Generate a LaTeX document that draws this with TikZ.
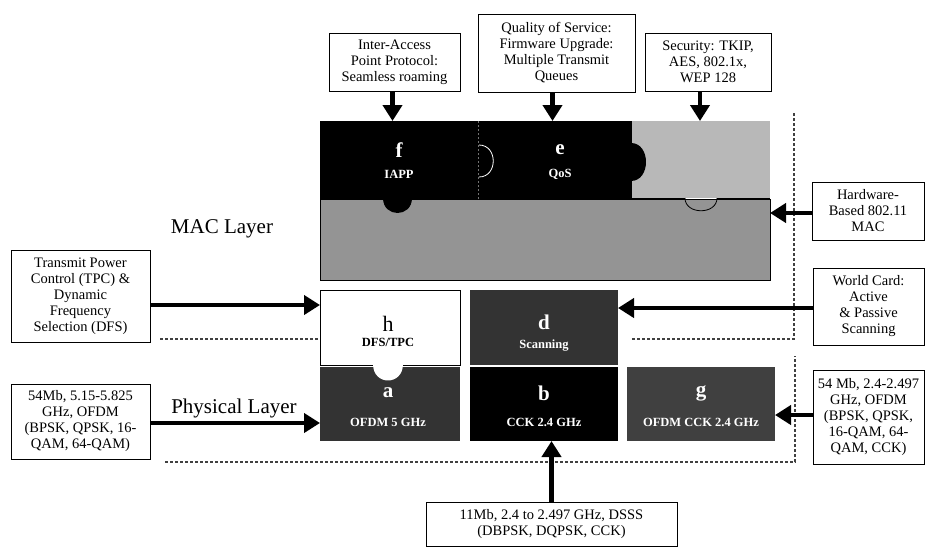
\documentclass[tikz,border=0pt]{standalone}
\usepackage{fontspec}
\setmainfont{Liberation Serif}
\usetikzlibrary{arrows.meta}
\begin{document}
\begin{tikzpicture}[x=1pt,y=-1pt,
  box/.style={draw, line width=1pt, fill=white, align=center, inner sep=1pt,
              font=\fontsize{14.5}{16}\selectfont},
  boxtext/.style={align=center, inner sep=0pt, font=\fontsize{14.5}{16}\selectfont},
  blk/.style={inner sep=0pt, outer sep=0pt, anchor=north west},
  arr/.style={line width=4.5pt, -{Triangle[length=16pt,width=19pt]}},
  big/.style={inner sep=0pt, font=\fontsize{21}{21}\selectfont\bfseries},
  bigreg/.style={inner sep=0pt, font=\fontsize{22}{22}\selectfont},
  sub/.style={inner sep=0pt, font=\fontsize{12.5}{13}\selectfont\bfseries},
  layer/.style={inner sep=0pt, anchor=base, font=\fontsize{21}{21}\selectfont},
  bound/.style={line width=1.1pt, black!75, dash pattern=on 3pt off 2pt}]
\useasboundingbox (0,0) rectangle (925,547);

% ---------- boundaries ----------
\draw[bound] (160,339) -- (318,339);
\draw[bound] (632,339) -- (794,339) -- (794,113);
\draw[bound] (165,462) -- (795,462) -- (795,356);

% ---------- MAC block ----------
\node[blk, draw=black, line width=0.8pt, fill=black!42, minimum width=450pt, minimum height=81pt] (ml) at (320,199) {};
\node[blk, fill=black!28, minimum width=138pt, minimum height=77pt] (mr) at (632,121) {};
\node[blk, fill=black, minimum width=158pt, minimum height=78pt] (f) at (320,121) {};
\node[blk, fill=black, minimum width=154pt, minimum height=78pt] (e) at (478,121) {};
\fill[black] (383,198) .. controls (383,218) and (412,218) .. (412,198) -- cycle;
\fill[black] (631,143) .. controls (651,143) and (651,181) .. (631,181) -- cycle;
\draw[black!55, line width=0.5pt, dash pattern=on 2pt off 2pt] (478,121) -- (478,199);
\draw[white, line width=0.8pt] (479,145) .. controls (498,145) and (498,177) .. (479,177);
\draw[black, line width=0.8pt] (685,198) .. controls (685,215) and (717,215) .. (717,198);
\draw[black, line width=0.6pt] (632,198) -- (685,198) (717,198) -- (770,198);

\node[big, white] (fl) at (399,150) {f};
\node[sub, white] (ft) at (399,174) {IAPP};
\node[big, white] (el) at (560,150) {e};
\node[sub, white] (et) at (560,174) {QoS};

\node[layer] (maclab) at (222,233) {MAC Layer};
\node[layer] (phylab) at (234,413) {Physical Layer};

% ---------- lower blocks ----------
\node[blk, draw=black, line width=0.8pt, fill=white, minimum width=140pt, minimum height=75pt] (h) at (320,290) {};
\node[blk, fill=black!80, minimum width=148pt, minimum height=75pt] (d) at (470,290) {};
\node[blk, fill=black!80, minimum width=140pt, minimum height=74pt] (a) at (320,367) {};
\node[blk, fill=black, minimum width=148pt, minimum height=74pt] (b) at (470,367) {};
\node[blk, fill=black!75, minimum width=148pt, minimum height=74pt] (g) at (627,367) {};
\fill[white] (373,364) .. controls (373,386) and (403,386) .. (403,364) -- cycle;

\node[bigreg] (hl) at (388,324) {h};
\node[sub] (ht) at (388,342) {DFS/TPC};
\node[big, white] (dl) at (544,322) {d};
\node[sub, white] (dt) at (544,346) {Scanning};
\node[big, white] (al) at (388,393) {a};
\node[sub, white] (at) at (388,422) {OFDM 5 GHz};
\node[big, white] (bl) at (544,393) {b};
\node[sub, white] (bt) at (544,422) {CCK 2.4 GHz};
\node[big, white] (gl) at (701,393) {g};
\node[sub, white] (gt) at (701,422) {OFDM CCK 2.4 GHz};

% ---------- description boxes ----------
\node[box, minimum width=131pt, minimum height=58pt] (inter) at (394.5,62)
  {Inter-Access\\Point Protocol:\\Seamless roaming};
\node[box, minimum width=157pt, minimum height=78pt] (qos) at (556.5,53)
  {Quality of Service:\\Firmware Upgrade:\\Multiple Transmit\\Queues};
\node[box, minimum width=126pt, minimum height=58pt] (sec) at (708,62)
  {Security: TKIP,\\AES, 802.1x,\\WEP 128};
\node[box, minimum width=112pt, minimum height=58pt] (hw) at (868,211)
  {Hardware-\\Based 802.11\\MAC};
\node[box, minimum width=111pt, minimum height=77pt] (wc) at (868.5,306.5)
  {World Card:\\Active\\\& Passive\\Scanning};
\node[box, minimum width=139pt, minimum height=92pt] (tpc) at (80.5,296)
  {Transmit Power\\Control (TPC) \&\\Dynamic\\Frequency\\Selection (DFS)};
\node[box, minimum width=139pt, minimum height=75pt] (lm) at (80.5,421.5)
  {54Mb, 5.15-5.825\\GHz, OFDM\\(BPSK, QPSK, 16-\\QAM, 64-QAM)};
\node[box, minimum width=111pt, minimum height=94pt] (rm) at (868.5,417) {};
\node[boxtext] (rmt) at (rm.center)
  {54 Mb, 2.4-2.497\\GHz, OFDM\\(BPSK, QPSK,\\16-QAM, 64-\\QAM, CCK)};
\node[box, minimum width=251pt, minimum height=44pt] (bot) at (551.5,524)
  {11Mb, 2.4 to 2.497 GHz, DSSS\\(DBPSK, DQPSK, CCK)};

% ---------- arrows ----------
\draw[arr] ([xshift=-2pt]inter.south) -- ([xshift=-2pt]inter.south |- f.north);
\draw[arr] ([xshift=-4pt]qos.south) -- ([xshift=-4pt]qos.south |- e.north);
\draw[arr] ([xshift=-8pt]sec.south) -- ([xshift=-8pt]sec.south |- mr.north);
\draw[arr] ([yshift=-2pt]hw.west) -- ([yshift=-2pt]hw.west -| ml.east);
\draw[arr] ([yshift=-1.5pt]wc.west) -- ([yshift=-1.5pt]wc.west -| d.east);
\draw[arr] ([yshift=-9pt]tpc.east) -- ([yshift=-9pt]tpc.east -| h.west);
\draw[arr] ([yshift=-1.5pt]lm.east) -- ([yshift=-1.5pt]lm.east -| a.west);
\draw[arr] ([yshift=2pt]rm.west) -- ([yshift=2pt]rm.west -| g.east);
\draw[arr] (bot.north) -- (bot.north |- b.south);
\end{tikzpicture}
\end{document}
